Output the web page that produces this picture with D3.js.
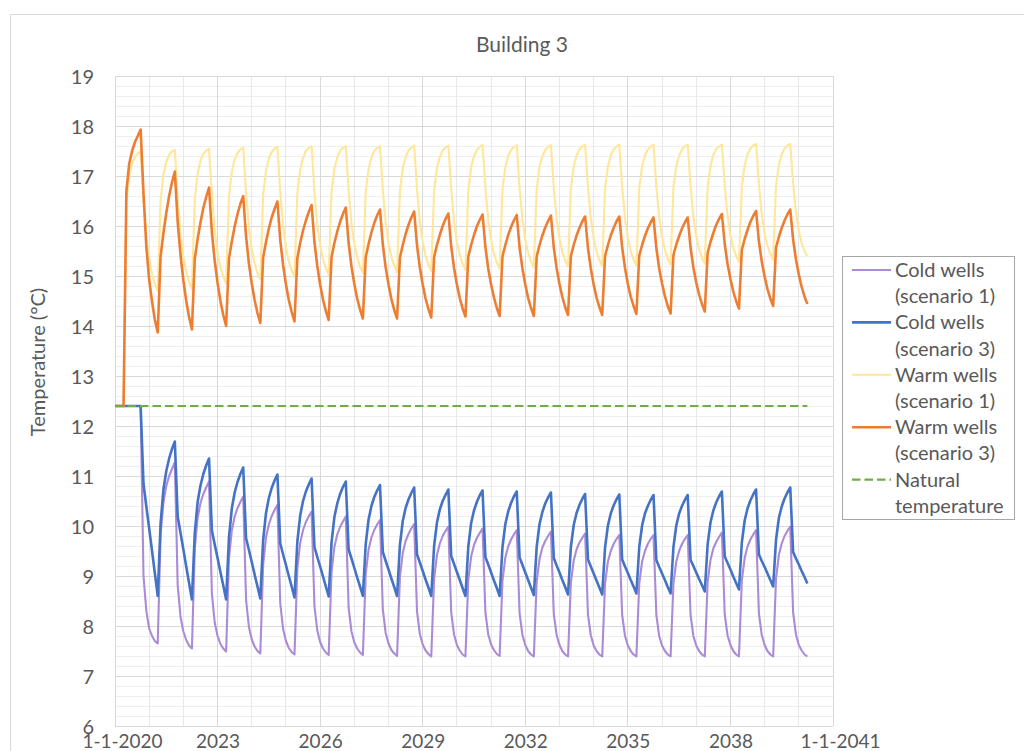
<!DOCTYPE html>
<html><head><meta charset="utf-8">
<script src="https://cdn.jsdelivr.net/npm/d3@7"></script>
<style>
html,body{margin:0;padding:0;background:#fff;}
svg{display:block;}
text{font-family:Lato,"Open Sans",sans-serif;fill:#595959;}
</style></head><body>
<svg id="chart" width="1024" height="751"></svg>
<script>
// ---------------- DATA ----------------
const chartTitle = "Building 3";
const yAxisTitle = "Temperature (°C)";
const xTickMonths = [0, 36, 72, 108, 144, 180, 216, 252];   // months since 1-1-2020
const xTickLabels = ["1-1-2020", "2023", "2026", "2029", "2032", "2035", "2038", "1-1-2041"];
const yTickValues = [6, 7, 8, 9, 10, 11, 12, 13, 14, 15, 16, 17, 18, 19];
const seriesLabels = [
  ["Cold wells", "(scenario 1)"],
  ["Cold wells", "(scenario 3)"],
  ["Warm wells", "(scenario 1)"],
  ["Warm wells", "(scenario 3)"],
  ["Natural", "temperature"]
];
// monthly values, month 0 = Jan 2020 ... month 243 = Apr 2040
const coldWellsS1 = [
  12.4, 12.4, 12.4, 12.4,
  12.4, 12.4, 12.4, 12.4, 12.4, 12.4,
  9.0, 8.3, 7.95, 7.8, 7.7, 7.65,
  9.82, 10.47, 10.80, 11.00, 11.14, 11.27,
  8.82, 8.18, 7.89, 7.72, 7.61, 7.55,
  9.55, 10.16, 10.46, 10.64, 10.77, 10.89,
  8.65, 8.07, 7.80, 7.64, 7.55, 7.49,
  9.35, 9.91, 10.19, 10.36, 10.48, 10.59,
  8.52, 7.98, 7.73, 7.59, 7.50, 7.45,
  9.23, 9.77, 10.03, 10.20, 10.32, 10.42,
  8.45, 7.94, 7.70, 7.56, 7.48, 7.43,
  9.15, 9.66, 9.92, 10.08, 10.19, 10.29,
  8.40, 7.91, 7.68, 7.55, 7.47, 7.42,
  9.08, 9.58, 9.83, 9.98, 10.09, 10.19,
  8.36, 7.89, 7.67, 7.55, 7.47, 7.42,
  9.04, 9.53, 9.77, 9.92, 10.03, 10.12,
  8.33, 7.86, 7.65, 7.52, 7.45, 7.40,
  8.98, 9.46, 9.70, 9.84, 9.95, 10.04,
  8.29, 7.84, 7.63, 7.51, 7.44, 7.39,
  8.95, 9.42, 9.65, 9.80, 9.90, 9.99,
  8.27, 7.83, 7.62, 7.51, 7.43, 7.39,
  8.93, 9.39, 9.62, 9.76, 9.86, 9.95,
  8.27, 7.83, 7.63, 7.52, 7.44, 7.40,
  8.91, 9.37, 9.59, 9.73, 9.83, 9.92,
  8.25, 7.82, 7.62, 7.50, 7.43, 7.39,
  8.89, 9.34, 9.57, 9.70, 9.80, 9.89,
  8.24, 7.82, 7.62, 7.50, 7.43, 7.39,
  8.87, 9.31, 9.53, 9.67, 9.76, 9.85,
  8.23, 7.81, 7.61, 7.50, 7.43, 7.39,
  8.85, 9.29, 9.50, 9.64, 9.74, 9.82,
  8.22, 7.80, 7.61, 7.50, 7.43, 7.39,
  8.85, 9.29, 9.50, 9.64, 9.74, 9.82,
  8.22, 7.80, 7.61, 7.50, 7.43, 7.39,
  8.85, 9.29, 9.50, 9.64, 9.74, 9.82,
  8.22, 7.80, 7.61, 7.50, 7.43, 7.39,
  8.88, 9.32, 9.55, 9.68, 9.78, 9.87,
  8.23, 7.81, 7.62, 7.50, 7.43, 7.39,
  8.91, 9.36, 9.59, 9.73, 9.83, 9.92,
  8.25, 7.82, 7.62, 7.50, 7.43, 7.39,
  8.95, 9.42, 9.65, 9.80, 9.90, 9.99,
  8.27, 7.83, 7.62, 7.51, 7.43, 7.39
];
const coldWellsS3 = [
  12.4, 12.4, 12.4, 12.4,
  12.4, 12.4, 12.4, 12.4, 12.4, 12.4,
  10.84, 10.39, 9.95, 9.50, 9.05, 8.60,
  10.05, 10.73, 11.10, 11.35, 11.54, 11.69,
  10.19, 9.86, 9.53, 9.19, 8.86, 8.53,
  9.86, 10.48, 10.81, 11.04, 11.21, 11.35,
  9.91, 9.63, 9.36, 9.08, 8.81, 8.53,
  9.77, 10.35, 10.67, 10.88, 11.04, 11.17,
  9.76, 9.52, 9.28, 9.03, 8.79, 8.55,
  9.72, 10.26, 10.56, 10.76, 10.91, 11.03,
  9.65, 9.43, 9.22, 9.00, 8.79, 8.57,
  9.69, 10.21, 10.50, 10.69, 10.83, 10.95,
  9.58, 9.38, 9.19, 8.99, 8.79, 8.59,
  9.67, 10.18, 10.45, 10.64, 10.78, 10.89,
  9.53, 9.35, 9.16, 8.97, 8.79, 8.60,
  9.64, 10.13, 10.40, 10.58, 10.71, 10.82,
  9.48, 9.30, 9.13, 8.95, 8.78, 8.60,
  9.62, 10.10, 10.36, 10.53, 10.66, 10.77,
  9.43, 9.27, 9.10, 8.93, 8.77, 8.60,
  9.60, 10.07, 10.33, 10.50, 10.62, 10.73,
  9.40, 9.24, 9.08, 8.92, 8.76, 8.60,
  9.59, 10.06, 10.31, 10.48, 10.61, 10.71,
  9.38, 9.23, 9.07, 8.91, 8.76, 8.60,
  9.58, 10.04, 10.29, 10.46, 10.59, 10.69,
  9.37, 9.22, 9.07, 8.92, 8.77, 8.62,
  9.58, 10.04, 10.28, 10.45, 10.57, 10.67,
  9.36, 9.21, 9.07, 8.92, 8.78, 8.63,
  9.58, 10.02, 10.26, 10.42, 10.54, 10.64,
  9.33, 9.19, 9.05, 8.91, 8.77, 8.63,
  9.57, 10.01, 10.25, 10.41, 10.53, 10.63,
  9.33, 9.19, 9.06, 8.92, 8.79, 8.65,
  9.58, 10.01, 10.25, 10.40, 10.52, 10.62,
  9.32, 9.18, 9.05, 8.92, 8.78, 8.65,
  9.58, 10.01, 10.25, 10.40, 10.52, 10.62,
  9.32, 9.20, 9.07, 8.94, 8.82, 8.69,
  9.63, 10.07, 10.31, 10.47, 10.59, 10.69,
  9.39, 9.26, 9.13, 8.99, 8.86, 8.73,
  9.67, 10.11, 10.35, 10.51, 10.63, 10.73,
  9.43, 9.30, 9.18, 9.05, 8.92, 8.79,
  9.72, 10.16, 10.39, 10.55, 10.67, 10.77,
  9.48, 9.35, 9.23, 9.10, 8.98, 8.85
];
const warmWellsS1 = [
  12.4, 12.4, 12.4, 12.4,
  16.5, 17.0, 17.25, 17.38, 17.45, 17.5,
  16.52, 15.79, 15.34, 15.04, 14.84, 14.70,
  16.51, 17.02, 17.28, 17.42, 17.49, 17.53,
  16.55, 15.83, 15.38, 15.08, 14.88, 14.74,
  16.54, 17.04, 17.30, 17.44, 17.51, 17.55,
  16.61, 15.90, 15.47, 15.17, 14.99, 14.85,
  16.59, 17.08, 17.33, 17.46, 17.53, 17.57,
  16.65, 15.96, 15.54, 15.25, 15.06, 14.93,
  16.63, 17.11, 17.35, 17.48, 17.55, 17.59,
  16.68, 16.00, 15.58, 15.29, 15.11, 14.98,
  16.66, 17.13, 17.36, 17.50, 17.56, 17.60,
  16.70, 16.03, 15.62, 15.34, 15.16, 15.03,
  16.68, 17.14, 17.37, 17.50, 17.56, 17.60,
  16.71, 16.05, 15.64, 15.37, 15.19, 15.06,
  16.69, 17.14, 17.37, 17.50, 17.56, 17.60,
  16.72, 16.06, 15.66, 15.38, 15.21, 15.08,
  16.70, 17.16, 17.38, 17.51, 17.57, 17.61,
  16.73, 16.08, 15.68, 15.40, 15.23, 15.10,
  16.71, 17.16, 17.38, 17.51, 17.57, 17.61,
  16.74, 16.09, 15.69, 15.42, 15.24, 15.12,
  16.72, 17.17, 17.40, 17.52, 17.58, 17.62,
  16.76, 16.11, 15.72, 15.45, 15.27, 15.15,
  16.73, 17.18, 17.40, 17.52, 17.58, 17.62,
  16.76, 16.13, 15.73, 15.46, 15.29, 15.17,
  16.74, 17.18, 17.40, 17.52, 17.58, 17.62,
  16.77, 16.14, 15.75, 15.48, 15.31, 15.19,
  16.75, 17.19, 17.41, 17.53, 17.59, 17.63,
  16.78, 16.15, 15.76, 15.49, 15.32, 15.20,
  16.76, 17.19, 17.41, 17.53, 17.59, 17.63,
  16.78, 16.15, 15.77, 15.50, 15.33, 15.21,
  16.76, 17.19, 17.41, 17.53, 17.59, 17.63,
  16.79, 16.17, 15.78, 15.52, 15.35, 15.23,
  16.77, 17.20, 17.41, 17.53, 17.59, 17.63,
  16.80, 16.18, 15.80, 15.54, 15.37, 15.25,
  16.77, 17.20, 17.42, 17.54, 17.59, 17.63,
  16.81, 16.20, 15.82, 15.56, 15.40, 15.28,
  16.79, 17.22, 17.43, 17.55, 17.61, 17.64,
  16.83, 16.23, 15.85, 15.60, 15.44, 15.32,
  16.81, 17.22, 17.43, 17.55, 17.61, 17.64,
  16.85, 16.27, 15.91, 15.66, 15.50, 15.39
];
const warmWellsS3 = [
  12.4, 12.4, 12.4, 12.4,
  16.7, 17.25, 17.5, 17.68, 17.8, 17.93,
  16.65, 15.59, 14.92, 14.49, 14.12, 13.87,
  15.39, 15.86, 16.26, 16.60, 16.87, 17.09,
  16.08, 15.42, 14.91, 14.50, 14.18, 13.93,
  15.34, 15.74, 16.07, 16.36, 16.58, 16.77,
  15.88, 15.30, 14.86, 14.50, 14.22, 14.00,
  15.35, 15.69, 15.99, 16.24, 16.44, 16.60,
  15.79, 15.25, 14.85, 14.52, 14.26, 14.06,
  15.37, 15.68, 15.95, 16.17, 16.34, 16.49,
  15.72, 15.22, 14.83, 14.52, 14.28, 14.09,
  15.36, 15.66, 15.91, 16.11, 16.28, 16.42,
  15.68, 15.20, 14.83, 14.53, 14.30, 14.12,
  15.38, 15.66, 15.89, 16.08, 16.24, 16.37,
  15.66, 15.19, 14.84, 14.55, 14.33, 14.15,
  15.38, 15.64, 15.87, 16.06, 16.21, 16.33,
  15.63, 15.17, 14.83, 14.54, 14.32, 14.15,
  15.37, 15.62, 15.84, 16.02, 16.17, 16.29,
  15.61, 15.17, 14.83, 14.55, 14.34, 14.17,
  15.38, 15.62, 15.82, 16.00, 16.14, 16.25,
  15.59, 15.16, 14.83, 14.56, 14.35, 14.19,
  15.39, 15.62, 15.82, 15.99, 16.12, 16.23,
  15.58, 15.15, 14.83, 14.57, 14.36, 14.20,
  15.39, 15.62, 15.82, 15.98, 16.11, 16.22,
  15.57, 15.15, 14.83, 14.56, 14.36, 14.20,
  15.39, 15.62, 15.81, 15.97, 16.10, 16.21,
  15.57, 15.16, 14.84, 14.58, 14.38, 14.22,
  15.40, 15.62, 15.81, 15.96, 16.09, 16.19,
  15.56, 15.15, 14.83, 14.57, 14.38, 14.22,
  15.40, 15.62, 15.81, 15.96, 16.09, 16.19,
  15.57, 15.16, 14.84, 14.59, 14.40, 14.24,
  15.41, 15.62, 15.80, 15.95, 16.07, 16.17,
  15.56, 15.15, 14.85, 14.60, 14.40, 14.25,
  15.42, 15.63, 15.80, 15.95, 16.07, 16.17,
  15.57, 15.17, 14.87, 14.63, 14.44, 14.29,
  15.46, 15.68, 15.86, 16.02, 16.14, 16.24,
  15.64, 15.24, 14.94, 14.69, 14.50, 14.35,
  15.52, 15.74, 15.92, 16.08, 16.20, 16.30,
  15.69, 15.29, 14.99, 14.74, 14.55, 14.40,
  15.57, 15.78, 15.96, 16.11, 16.23, 16.33,
  15.73, 15.33, 15.03, 14.78, 14.59, 14.44
];
const naturalMonths = [0, 243];
const naturalTemp = [12.4, 12.4];

// ---------------- STYLE ----------------
const styles = [
  {color: "#ab8bd6", width: 2.1, dash: null},
  {color: "#4472c4", width: 2.6, dash: null},
  {color: "#ffe699", width: 2.1, dash: null},
  {color: "#ed7d31", width: 2.6, dash: null},
  {color: "#70ad47", width: 2.2, dash: "8.5,4"}
];

// ---------------- CHART ----------------
const svg = d3.select("#chart");
const pL = 115, pR = 833, pT = 76, pB = 726;
const x = d3.scaleLinear().domain([0, 252]).range([pL, pR]);
const y = d3.scaleLinear().domain([6, 19]).range([pB, pT]);

svg.append("rect").attr("width", 1024).attr("height", 751).attr("fill", "#fff");
svg.append("rect").attr("x", 10.5).attr("y", 14.5).attr("width", 1040).attr("height", 800)
  .attr("fill", "none").attr("stroke", "#d9d9d9").attr("stroke-width", 1);

// gridlines
const grid = svg.append("g").attr("shape-rendering", "crispEdges");
const minorY = d3.range(0, 66).map(i => 6 + i * 0.2).filter(v => Math.abs(v - Math.round(v)) > 1e-6);
grid.selectAll(".my").data(minorY).join("line")
  .attr("x1", pL).attr("x2", pR).attr("y1", d => y(d)).attr("y2", d => y(d))
  .attr("stroke", "#efefef").attr("stroke-width", 1);
const minorX = d3.range(12, 252, 12).filter(m => m % 36 !== 0);
grid.selectAll(".mx").data(minorX).join("line")
  .attr("x1", d => x(d)).attr("x2", d => x(d)).attr("y1", pT).attr("y2", pB)
  .attr("stroke", "#e8e8e8").attr("stroke-width", 1);
grid.selectAll(".gy").data(yTickValues).join("line")
  .attr("x1", pL).attr("x2", pR).attr("y1", d => y(d)).attr("y2", d => y(d))
  .attr("stroke", "#d9d9d9").attr("stroke-width", 1);
grid.selectAll(".gx").data(xTickMonths).join("line")
  .attr("x1", d => x(d)).attr("x2", d => x(d)).attr("y1", pT).attr("y2", pB)
  .attr("stroke", "#d9d9d9").attr("stroke-width", 1);

// axes
const yAxis = svg.append("g").attr("transform", `translate(${pL},0)`)
  .call(d3.axisLeft(y).tickValues(yTickValues).tickSize(0).tickPadding(21).tickFormat(d3.format("d")));
yAxis.select(".domain").remove();
yAxis.selectAll("text").attr("font-family", "Lato").attr("font-size", 20).attr("fill", "#595959").attr("dy", "0.36em");

const xAxis = svg.append("g").attr("transform", `translate(0,${pB})`)
  .call(d3.axisBottom(x).tickValues(xTickMonths).tickSize(0).tickFormat((d, i) => xTickLabels[i]));
xAxis.select(".domain").remove();
xAxis.selectAll("text").attr("font-family", "Lato").attr("font-size", 19).attr("fill", "#595959")
  .attr("dy", null).attr("y", 21.5)
  .attr("dx", (d, i) => (i === 0 || i === xTickLabels.length - 1) ? 7 : 0);

// titles
svg.append("text").attr("x", 522).attr("y", 52).attr("text-anchor", "middle")
  .attr("font-size", 21).text(chartTitle);
svg.append("text").attr("transform", "translate(44.5,362) rotate(-90)").attr("text-anchor", "middle")
  .attr("font-size", 20).text(yAxisTitle);

// series
const months = coldWellsS1.map((_, i) => i);
const seriesData = [coldWellsS1, coldWellsS3, warmWellsS1, warmWellsS3];
const line = d3.line().x(d => x(d[0])).y(d => y(d[1]));
const plot = svg.append("g").attr("fill", "none").attr("stroke-linejoin", "round");
seriesData.forEach((vals, s) => {
  plot.append("path").datum(vals.map((v, i) => [months[i], v]))
    .attr("d", line).attr("stroke", styles[s].color).attr("stroke-width", styles[s].width);
});
plot.append("path").datum(naturalMonths.map((m, i) => [m, naturalTemp[i]]))
  .attr("d", line).attr("stroke", styles[4].color).attr("stroke-width", styles[4].width)
  .attr("stroke-dasharray", styles[4].dash);

// legend
const lg = svg.append("g");
lg.append("rect").attr("x", 842.5).attr("y", 256.5).attr("width", 172).attr("height", 263)
  .attr("fill", "#fff").attr("stroke", "#a6a6a6").attr("stroke-width", 1);
const lineH = 26.2, base0 = 277;
seriesLabels.forEach((lab, s) => {
  const by = base0 + s * 2 * lineH;
  lg.append("line").attr("x1", 852).attr("x2", 891).attr("y1", by - 7).attr("y2", by - 7)
    .attr("stroke", styles[s].color).attr("stroke-width", styles[s].width)
    .attr("stroke-dasharray", styles[s].dash);
  lab.forEach((t, j) => {
    lg.append("text").attr("x", 895).attr("y", by + j * lineH).attr("font-size", 20).text(t);
  });
});
</script>
</body></html>
